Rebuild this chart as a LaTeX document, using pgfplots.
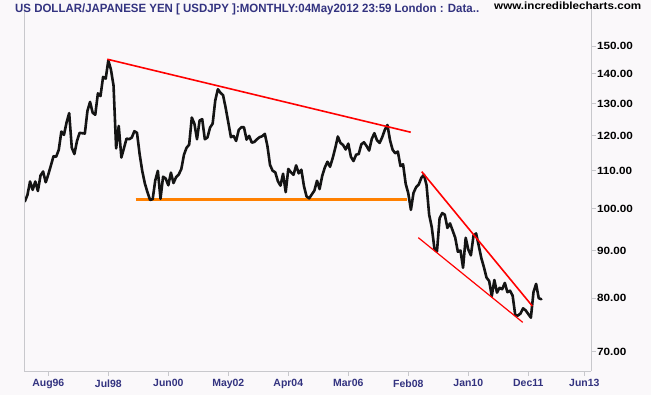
\documentclass[border=0pt]{standalone}
\usepackage{pgfplots}
\pgfplotsset{compat=1.18}
\usepackage{fontspec}
\setmainfont{Liberation Sans}
\definecolor{bgcol}{RGB}{250,248,250}
\definecolor{linegray}{RGB}{200,200,204}
\definecolor{navy}{RGB}{51,51,128}
\definecolor{trendred}{RGB}{255,0,0}
\definecolor{trendorange}{RGB}{255,128,0}
\newcommand{\yl}[1]{\scalebox{1.12}[1]{#1}}
\begin{document}
\begin{tikzpicture}
\fill[bgcol] (0,0) rectangle (651bp,395bp);
\useasboundingbox (0,0) rectangle (651bp,395bp);
\begin{axis}[
  at={(24.3bp,23.7bp)}, anchor=south west,
  scale only axis, width=567bp, height=367.3bp,
  xmin=1995.816, xmax=2013.93,
  ymode=log, ymin=66.67, ymax=166.6,
  axis x line*=bottom, axis y line*=right,
  axis line style={draw=linegray, line width=0.9bp},
  xtick={1996.583,1998.5,2000.417,2002.333,2004.25,2006.167,2008.083,2010.0,2011.917,2013.708},
  xticklabels={Aug96,Jul98,Jun00,May02,Apr04,Mar06,Feb08,Jan10,Dec11,Jun13},
  ytick={70,80,90,100,110,120,130,140,150},
  yticklabels={\yl{70.00},\yl{80.00},\yl{90.00},\yl{100.00},\yl{110.00},\yl{120.00},\yl{130.00},\yl{140.00},\yl{150.00}},
  minor tick num=0, minor ytick={},
  tick align=outside,
  major tick length=4.5bp,
  tick style={draw=linegray, line width=0.9bp},
  xticklabel style={font=\bfseries\fontsize{10.5}{12}\selectfont, text=navy, inner sep=1bp, yshift=-2.5bp},
  yticklabel style={font=\bfseries\fontsize{10.5}{12}\selectfont, text=black, anchor=west, inner sep=1bp},
  after end axis/.code={\draw[linegray, line width=0.9bp] (rel axis cs:0,0) -- (rel axis cs:0,1);},
]
\addplot[trendorange, line width=2.6bp, line cap=butt] coordinates {(1999.375,102.37) (2008.053,102.37)};
\addplot[black!92, line width=2.6bp, line join=round, line cap=round] coordinates {
(1995.833,101.8) (1995.917,103.5) (1996.000,107.0) (1996.083,104.8) (1996.167,107.0) (1996.250,104.5)
(1996.333,108.6) (1996.417,109.7) (1996.500,106.8) (1996.583,108.9) (1996.667,111.4) (1996.750,114.0)
(1996.833,113.8) (1996.917,115.8) (1997.000,121.2) (1997.083,120.2) (1997.167,124.0) (1997.250,126.9)
(1997.333,116.4) (1997.417,114.6) (1997.500,118.4) (1997.583,120.8) (1997.667,120.7) (1997.750,120.6)
(1997.833,127.6) (1997.917,130.5) (1998.000,127.0) (1998.083,126.4) (1998.167,133.3) (1998.250,132.4)
(1998.333,138.9) (1998.417,138.3) (1998.500,144.7) (1998.583,141.5) (1998.667,135.9) (1998.750,116.2)
(1998.833,122.9) (1998.917,113.6) (1999.000,116.3) (1999.083,119.1) (1999.167,118.9) (1999.250,119.4)
(1999.333,121.3) (1999.417,120.8) (1999.500,114.6) (1999.583,109.9) (1999.667,106.5) (1999.750,104.2)
(1999.833,102.2) (1999.917,102.4) (2000.000,107.3) (2000.083,109.9) (2000.167,102.5) (2000.250,108.3)
(2000.333,107.8) (2000.417,106.0) (2000.500,109.4) (2000.583,106.6) (2000.667,108.2) (2000.750,108.9)
(2000.833,110.4) (2000.917,114.4) (2001.000,116.4) (2001.083,117.3) (2001.167,125.5) (2001.250,123.6)
(2001.333,118.9) (2001.417,124.6) (2001.500,125.0) (2001.583,118.9) (2001.667,119.4) (2001.750,122.4)
(2001.833,123.6) (2001.917,131.0) (2002.000,134.7) (2002.083,133.5) (2002.167,132.7) (2002.250,128.5)
(2002.333,124.0) (2002.417,119.5) (2002.500,119.9) (2002.583,118.4) (2002.667,121.7) (2002.750,122.5)
(2002.833,122.5) (2002.917,118.8) (2003.000,119.9) (2003.083,117.9) (2003.167,118.1) (2003.250,118.9)
(2003.333,119.5) (2003.417,119.8) (2003.500,120.5) (2003.583,116.9) (2003.667,111.5) (2003.750,109.9)
(2003.833,109.5) (2003.917,107.1) (2004.000,105.9) (2004.083,109.1) (2004.167,104.2) (2004.250,110.4)
(2004.333,109.5) (2004.417,108.8) (2004.500,111.4) (2004.583,109.2) (2004.667,110.2) (2004.750,105.8)
(2004.833,103.1) (2004.917,102.6) (2005.000,103.6) (2005.083,104.6) (2005.167,107.2) (2005.250,105.0)
(2005.333,108.5) (2005.417,110.8) (2005.500,112.4) (2005.583,111.0) (2005.667,113.4) (2005.750,116.3)
(2005.833,119.7) (2005.917,117.8) (2006.000,117.2) (2006.083,115.9) (2006.167,117.6) (2006.250,113.8)
(2006.333,112.6) (2006.417,114.4) (2006.500,114.6) (2006.583,117.4) (2006.667,118.0) (2006.750,116.9)
(2006.833,115.6) (2006.917,119.0) (2007.000,120.7) (2007.083,118.6) (2007.167,117.8) (2007.250,119.5)
(2007.333,121.7) (2007.417,123.2) (2007.500,118.6) (2007.583,115.8) (2007.667,114.8) (2007.750,115.3)
(2007.833,111.2) (2007.917,111.7) (2008.000,106.4) (2008.083,103.9) (2008.167,99.7) (2008.250,104.0)
(2008.333,105.5) (2008.417,106.2) (2008.500,108.0) (2008.583,108.8) (2008.667,106.0) (2008.750,98.5)
(2008.833,95.5) (2008.917,90.6) (2009.000,89.9) (2009.083,97.6) (2009.167,98.9) (2009.250,98.5)
(2009.333,95.3) (2009.417,96.4) (2009.500,94.7) (2009.583,93.0) (2009.667,89.8) (2009.750,90.1)
(2009.833,86.3) (2009.917,93.0) (2010.000,90.3) (2010.083,89.0) (2010.167,93.5) (2010.250,94.0)
(2010.333,91.2) (2010.417,88.4) (2010.500,86.4) (2010.583,84.2) (2010.667,83.5) (2010.750,80.4)
(2010.833,83.7) (2010.917,81.1) (2011.000,82.1) (2011.083,81.8) (2011.167,83.1) (2011.250,81.2)
(2011.333,81.5) (2011.417,80.5) (2011.500,76.7) (2011.583,76.6) (2011.667,77.0) (2011.750,78.0)
(2011.833,77.6) (2011.917,76.9) (2012.000,76.2) (2012.083,81.2) (2012.167,82.9) (2012.250,80.0)
(2012.333,79.8)
};
\addplot[trendred, line width=1.6bp] coordinates {(1998.468,145.15) (2008.161,120.99)};
\addplot[trendred, line width=1.6bp] coordinates {(2008.513,109.67) (2012.046,78.45)};
\addplot[trendred, line width=1.2bp] coordinates {(2008.404,93.02) (2011.740,75.33)};
\end{axis}
\node[anchor=base west, inner sep=0, text=navy, font=\bfseries\fontsize{12}{14}\selectfont] at (15bp,382.3bp)
  {\resizebox{464bp}{\height}{US DOLLAR/JAPANESE YEN [ USDJPY ]:MONTHLY:04May2012 23:59 London : Data..}};
\node[anchor=base west, inner sep=0, text=black, font=\bfseries\fontsize{10.5}{12}\selectfont] at (494bp,385bp)
  {\resizebox{147bp}{\height}{www.incrediblecharts.com}};
\end{tikzpicture}
\end{document}
